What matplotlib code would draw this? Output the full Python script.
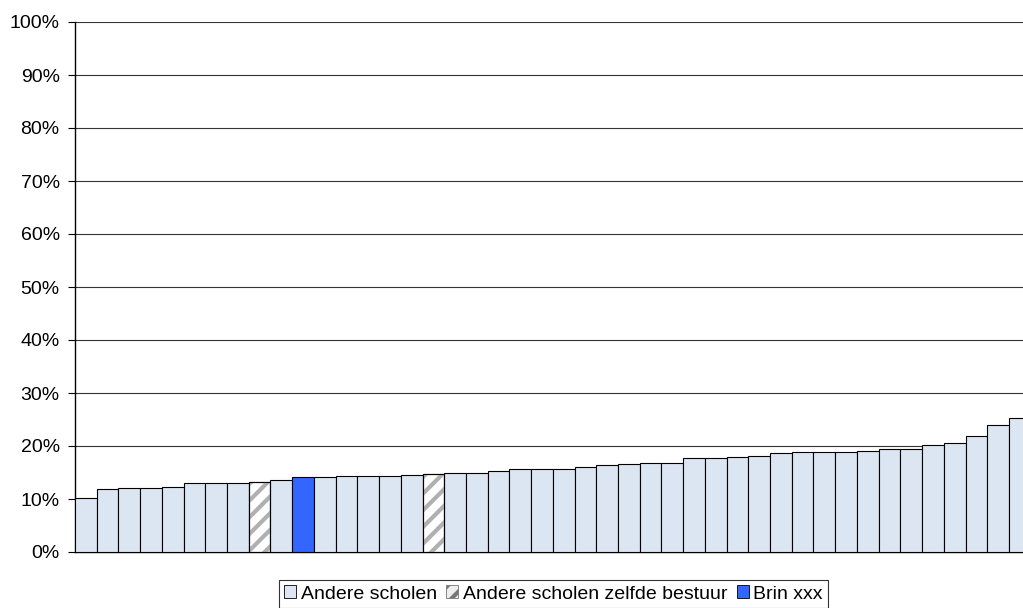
import numpy as np
import matplotlib.pyplot as plt
from matplotlib.patches import Patch

plt.rcParams['font.family'] = ['Liberation Sans', 'DejaVu Sans']
plt.rcParams['hatch.linewidth'] = 3.0

# percentage per school, sorted ascending
scores = [10.1, 11.8, 12.0, 12.1, 12.3, 13.0, 13.0, 13.1, 13.3, 13.5,
          14.1, 14.1, 14.3, 14.3, 14.4, 14.5, 14.7, 15.0, 15.0, 15.2,
          15.6, 15.6, 15.7, 16.1, 16.4, 16.6, 16.7, 16.7, 17.8, 17.8,
          18.0, 18.2, 18.6, 18.8, 18.9, 18.9, 19.1, 19.4, 19.5, 20.1,
          20.5, 21.8, 24.0, 25.3]
same_board = [8, 16]   # index of schools under the same board
own_school = 10        # index of Brin xxx

legend_labels = ['Andere scholen', 'Andere scholen zelfde bestuur', 'Brin xxx']
c_other = '#dce6f2'
c_own = '#3366ff'
c_hatch = '#b0b0b0'

x = np.arange(len(scores))
colors = [c_other] * len(scores)
colors[own_school] = c_own
for i in same_board:
    colors[i] = 'white'

fig = plt.figure(figsize=(10.23, 6.08), dpi=100)
ax = fig.add_axes([75 / 1023, 56 / 608, 948 / 1023, 530 / 608])

ax.bar(x, scores, width=1.0, color=colors, edgecolor='black', linewidth=0.8, zorder=3)
# grey stripes on the same-board schools, then the outline again on top
for i in same_board:
    ax.bar(x[i], scores[i], width=1.0, facecolor='none', edgecolor=c_hatch,
           linewidth=0, hatch='//', zorder=4)
    ax.bar(x[i], scores[i], width=1.0, facecolor='none', edgecolor='black',
           linewidth=0.8, zorder=5)

ax.set_xlim(-0.5, -0.5 + 948 / 21.72)
ax.set_ylim(0, 100)
ax.set_yticks(np.arange(0, 101, 10))
ax.set_yticklabels([f'{v}%' for v in range(0, 101, 10)], fontsize=14)
ax.set_xticks([])
ax.tick_params(axis='y', length=5, width=0.8, pad=6, color='black')
ax.yaxis.grid(True, color='#333333', linewidth=0.8)
ax.set_axisbelow(True)
for s in ['top', 'right']:
    ax.spines[s].set_visible(False)
ax.spines['left'].set_linewidth(1.0)
ax.spines['bottom'].set_linewidth(1.0)

handles = [Patch(facecolor=c_other, edgecolor='black', linewidth=0.6),
           Patch(facecolor='#eeeeee', edgecolor='#777777', linewidth=0.6, hatch='//'),
           Patch(facecolor=c_own, edgecolor='black', linewidth=0.6)]
leg = fig.legend(handles, legend_labels, loc='upper center', ncol=3,
                 bbox_to_anchor=(553.5 / 1023, 1 - 580 / 608), fontsize=14,
                 frameon=True, fancybox=False, edgecolor='black',
                 handlelength=0.62, handleheight=0.62, handletextpad=0.22,
                 columnspacing=0.5, borderpad=0.28, borderaxespad=0)
leg.get_frame().set_linewidth(0.8)

fig.savefig('out.png', dpi=100)
